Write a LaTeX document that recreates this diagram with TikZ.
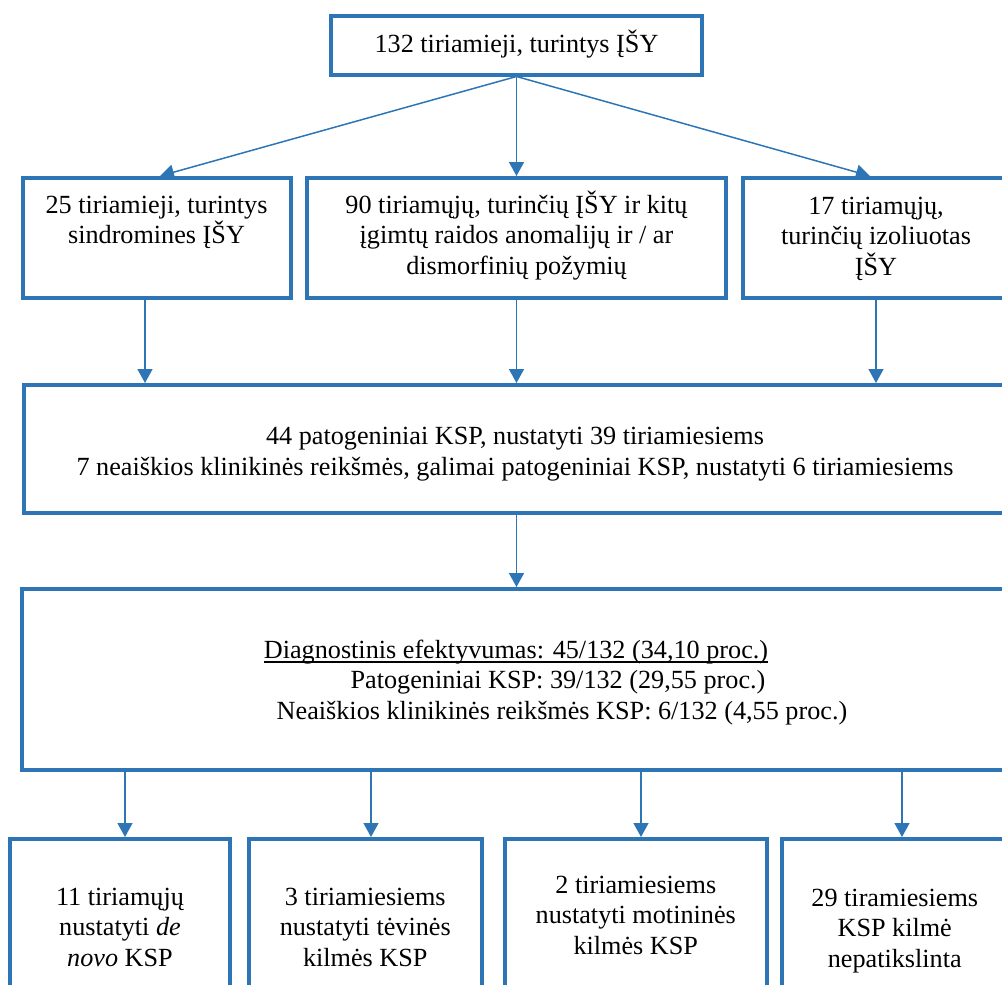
\documentclass[tikz,border=0pt]{standalone}
\usepackage{fontspec}
\setmainfont{Liberation Serif}
\usetikzlibrary{arrows.meta}
\definecolor{wblue}{RGB}{46,117,182}
\newcommand{\tstr}{\rule{0pt}{25pt}}
\newcommand{\myul}[1]{\setbox0=\hbox{#1}\rlap{\rule[-4.6pt]{\wd0}{1.3pt}}\box0}
\begin{document}
\begin{tikzpicture}[x=1pt,y=-1pt,
  box/.style={draw=wblue, line width=4pt, inner sep=0pt, fill=none},
  txt/.style={inner sep=0pt, align=center, anchor=north, font=\fontsize{26.2}{30.5}\selectfont},
  dl/.style={inner sep=0pt, anchor=base, font=\fontsize{26.2}{30.5}\selectfont},
  arr/.style={draw=wblue, line width=1.5pt, -{Triangle[width=15pt,length=14pt]}}]
\useasboundingbox (0,0) rectangle (1002,985);
\clip (0,0) rectangle (1002,985);

% boxes
\node[box, minimum width=371pt, minimum height=58.5pt] (top) at (516.5,45.25) {};
\node[box, minimum width=268pt, minimum height=120pt] (left) at (156.5,238) {};
\node[box, minimum width=419pt, minimum height=120pt] (mid) at (516.5,238) {};
\node[box, minimum width=266pt, minimum height=120pt] (right) at (876,238) {};
\node[box, minimum width=985pt, minimum height=127.5pt] (big1) at (516.5,448.75) {};
\node[box, minimum width=987.3pt, minimum height=181pt] (big2) at (515.35,679.5) {};
\node[box, minimum width=220pt, minimum height=171pt] (b1) at (120,924.5) {};
\node[box, minimum width=232.5pt, minimum height=171pt] (b2) at (365.25,924.5) {};
\node[box, minimum width=261.5pt, minimum height=171pt] (b3) at (635.75,924.5) {};
\node[box, minimum width=226.5pt, minimum height=171pt] (b4) at (894.75,924.5) {};

% texts
\node[txt] (ttop) at (516.5,27) {\tstr 132 tiriamieji, turintys ĮŠY};
\node[txt] (tleft) at (156.5,188) {\tstr 25 tiriamieji, turintys\\sindromines ĮŠY};
\node[txt] (tmid) at (516.5,188) {\tstr 90 tiriamųjų, turinčių ĮŠY ir kitų\\įgimtų raidos anomalijų ir / ar\\dismorfinių požymių};
\node[txt] (tright) at (876,189) {\tstr 17 tiriamųjų,\\turinčių izoliuotas\\ĮŠY};
\node[txt] (tbig1) at (515,419.5) {\tstr 44 patogeniniai KSP, nustatyti 39 tiriamiesiems\\7 neaiškios klinikinės reikšmės, galimai patogeniniai KSP, nustatyti 6 tiriamiesiems};
\node[dl] (d1) at (516,658) {\myul{Diagnostinis efektyvumas: 45/132 (34,10 proc.)}};
\node[dl] (d2) at (558,688.5) {Patogeniniai KSP: 39/132 (29,55 proc.)};
\node[dl] (d3) at (562,719) {Neaiškios klinikinės reikšmės KSP: 6/132 (4,55 proc.)};
\node[txt] (tb1) at (120,880) {\tstr 11 tiriamųjų\\nustatyti \textit{de}\\\textit{novo} KSP};
\node[txt] (tb2) at (365.25,880) {\tstr 3 tiriamiesiems\\nustatyti tėvinės\\kilmės KSP};
\node[txt] (tb3) at (635.75,868) {\tstr 2 tiriamiesiems\\nustatyti motininės\\kilmės KSP};
\node[txt] (tb4) at (894.75,881) {\tstr 29 tiramiesiems\\KSP kilmė\\nepatikslinta};

% connectors
\draw[arr] (top.south) -- ([xshift=3.5pt]left.north);
\draw[arr] (top.south) -- (mid.north);
\draw[arr] (top.south) -- ([xshift=-6pt]right.north);
\draw[arr] ([xshift=-11.5pt]left.south) -- ([xshift=-11.5pt]left.south |- big1.north);
\draw[arr] (mid.south) -- (mid.south |- big1.north);
\draw[arr] (right.south) -- (right.south |- big1.north);
\draw[arr] (big1.south) -- (big1.south |- big2.north);
\draw[arr] ([xshift=5pt]b1.north |- big2.south) -- ([xshift=5pt]b1.north);
\draw[arr] ([xshift=5.75pt]b2.north |- big2.south) -- ([xshift=5.75pt]b2.north);
\draw[arr] ([xshift=5.25pt]b3.north |- big2.south) -- ([xshift=5.25pt]b3.north);
\draw[arr] ([xshift=7.25pt]b4.north |- big2.south) -- ([xshift=7.25pt]b4.north);
\end{tikzpicture}
\end{document}
